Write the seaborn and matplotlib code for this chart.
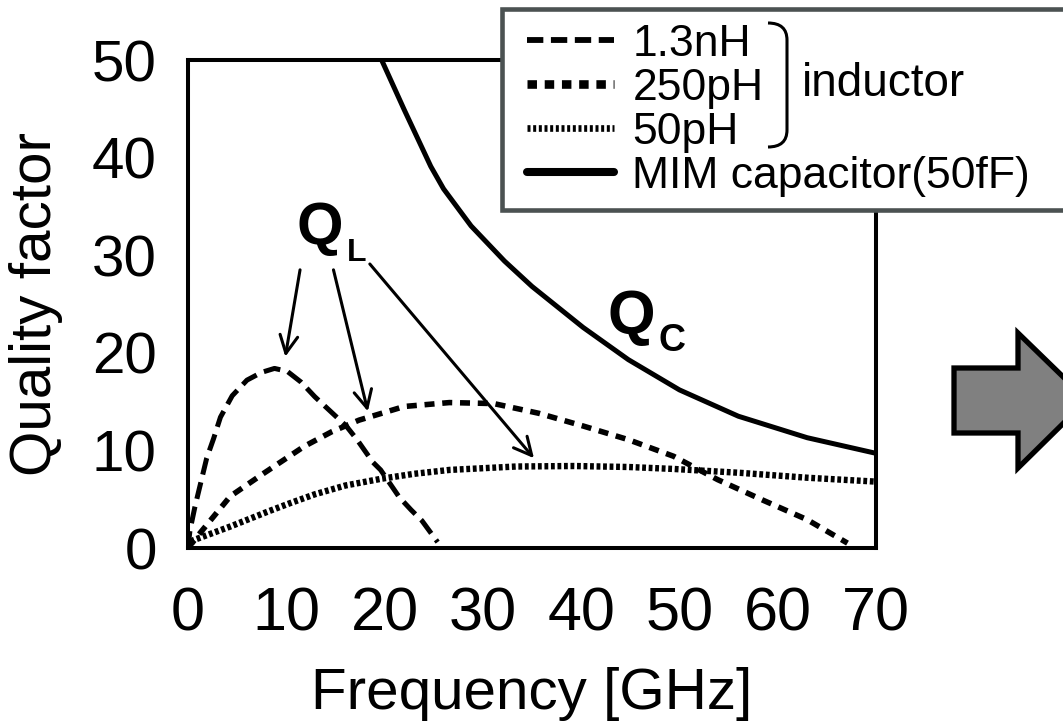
import matplotlib
matplotlib.use("Agg")
import matplotlib.pyplot as plt
import matplotlib.patches as mpatches
from matplotlib.path import Path
import seaborn as sns

sns.set_theme(style="white")
plt.rcParams['font.family'] = ['Liberation Sans', 'DejaVu Sans']
plt.rcParams.update({'text.color': 'black', 'axes.labelcolor': 'black',
                     'xtick.color': 'black', 'ytick.color': 'black'})

# values (frequency in GHz, quality factor)
f_13nH = [0, 0.2, 0.7, 1.9, 2.6, 3.3, 4.5, 6.0, 7.5, 8.8, 10.1, 11.5, 12.9, 14.5, 16.1, 17.2,
          18.8, 19.6, 21.5, 22.7, 23.8, 25.4]
q_13nH = [0, 1.8, 4.2, 9.2, 11.2, 13.4, 15.6, 17.2, 18.0, 18.4, 18.1, 17.0, 15.5, 14.0, 12.5, 11.1,
          8.8, 8.0, 5.2, 3.9, 2.8, 0.6]

f_250pH = [0, 1.2, 4.3, 7.7, 11.8, 14.6, 17.4, 22.0, 26.6, 31.1, 35.7, 40.2, 44.8, 49.4,
           53.9, 58.5, 63.0, 67.1]
q_250pH = [0, 1.5, 5.3, 7.65, 10.4, 11.9, 13.1, 14.5, 14.9, 14.8, 13.8, 12.5, 11.1, 9.4,
           7.0, 4.9, 2.9, 0.5]

f_50pH = [0, 0.55, 4.3, 8.3, 10.4, 12.9, 16.0, 19.7, 23.0, 26.6, 33.4, 39.3, 44.8, 49.4,
          56.2, 63.0, 70.0]
q_50pH = [0, 0.8, 2.2, 3.8, 4.6, 5.5, 6.4, 7.1, 7.6, 8.0, 8.35, 8.4, 8.3, 8.1,
          7.7, 7.2, 6.8]

f_mim = [19.7, 22.0, 24.7, 26.0, 28.8, 32.2, 35.0, 40.2, 44.8, 50.0, 56.0, 63.0, 70.0]
q_mim = [50.0, 44.9, 39.1, 36.8, 33.0, 29.4, 26.8, 22.6, 19.3, 16.2, 13.5, 11.3, 9.7]

labels = ['1.3nH', '250pH', '50pH', 'MIM capacitor(50fF)']
x_ticks = [0, 10, 20, 30, 40, 50, 60, 70]
y_ticks = [0, 10, 20, 30, 40, 50]

W, H = 1063, 722
fig = plt.figure(figsize=(W / 100, H / 100), dpi=100)
ax = fig.add_axes([188 / W, (H - 548) / H, (876 - 188) / W, (548 - 60) / H])

sns.lineplot(x=f_13nH, y=q_13nH, ax=ax, color='black', lw=3.6, sort=False)
sns.lineplot(x=f_250pH, y=q_250pH, ax=ax, color='black', lw=4.0, sort=False)
sns.lineplot(x=f_50pH, y=q_50pH, ax=ax, color='black', lw=4.6, sort=False)
sns.lineplot(x=f_mim, y=q_mim, ax=ax, color='black', lw=3.6, sort=False)
lines = ax.get_lines()
lines[0].set_dashes((3.4, 1.6))
lines[1].set_dashes((1.8, 1.4))
lines[2].set_dashes((0.6, 0.42))
for ln in lines:
    ln.set_solid_joinstyle('round')
    ln.set_dash_joinstyle('round')

ax.set_xlim(0, 70)
ax.set_ylim(0, 50)
ax.set_xticks(x_ticks)
ax.set_yticks(y_ticks)
ax.tick_params(direction='inout', length=19, width=1.3, color='black')
ax.tick_params(axis='x', labelsize=44, pad=18)
ax.tick_params(axis='y', labelsize=42, pad=13)
for s in ax.spines.values():
    s.set_color('black')
    s.set_linewidth(2.9)
ax.set_xlabel('Frequency [GHz]', fontsize=42, labelpad=17)
ax.set_ylabel('Quality factor', fontsize=42, labelpad=21)

# Q_L / Q_C labels
ax.text(11.0, 31.1, 'Q', fontsize=43, fontweight='bold')
ax.text(16.2, 29.4, 'L', fontsize=23, fontweight='bold')
ax.text(42.7, 22.0, 'Q', fontsize=44, fontweight='bold')
ax.text(47.9, 20.2, 'C', fontsize=27, fontweight='bold')

arrow_kw = dict(arrowstyle='->', lw=2.2, color='black', mutation_scale=32,
                shrinkA=0, shrinkB=0)
ax.annotate('', xy=(9.9, 19.6), xytext=(11.4, 28.5), arrowprops=arrow_kw)
ax.annotate('', xy=(18.3, 14.0), xytext=(14.8, 28.5), arrowprops=arrow_kw)
ax.annotate('', xy=(35.2, 9.2), xytext=(18.5, 29.1), arrowprops=arrow_kw)

# legend box (runs off the right edge of the figure)
frame = mpatches.Rectangle((502 / W, (H - 210) / H), (1120 - 502) / W, (210 - 9) / H,
                           transform=fig.transFigure, facecolor='white',
                           edgecolor='#4b5252', lw=3.3, zorder=3)
fig.patches.append(frame)

leg = fig.legend(lines, labels, loc='upper left', bbox_to_anchor=(527 / W, (H - 24) / H),
                 bbox_transform=fig.transFigure, frameon=False, fontsize=32,
                 handlelength=1.95, handletextpad=0.42, labelspacing=0.065,
                 borderpad=0, borderaxespad=0)
leg.set_zorder(4)
for hl, lw in zip(leg.get_lines(), [4.2, 6.2, 4.8, 5.8]):
    hl.set_linewidth(lw)
leg.get_lines()[0].set_dashes((2.8, 1.3))
leg.get_lines()[1].set_dashes((1.1, 0.9))
leg.get_lines()[2].set_dashes((0.45, 0.4))

# bracket and "inductor"
def fx(px):
    return px / W

def fy(py):
    return (H - py) / H

br = Path([(fx(768), fy(23)), (fx(787), fy(23)), (fx(787), fy(40)),
           (fx(787), fy(130)), (fx(787), fy(147)), (fx(768), fy(147))],
          [Path.MOVETO, Path.CURVE3, Path.CURVE3, Path.LINETO, Path.CURVE3, Path.CURVE3])
fig.patches.append(mpatches.PathPatch(br, transform=fig.transFigure, fill=False,
                                      lw=2.2, edgecolor='black', zorder=5))
fig.text(fx(802), fy(84), 'inductor', fontsize=33, va='center', zorder=5)

# grey block arrow at the right edge
arr_pts = [(954, 368), (1018, 368), (1018, 333), (1087, 400), (1018, 468), (1018, 433), (954, 433)]
fig.patches.append(mpatches.Polygon([(fx(a), fy(b)) for a, b in arr_pts], closed=True,
                                    transform=fig.transFigure, facecolor='#808080',
                                    edgecolor='black', lw=3.8, joinstyle='miter', zorder=3))

fig.savefig('out.png', dpi=100)
